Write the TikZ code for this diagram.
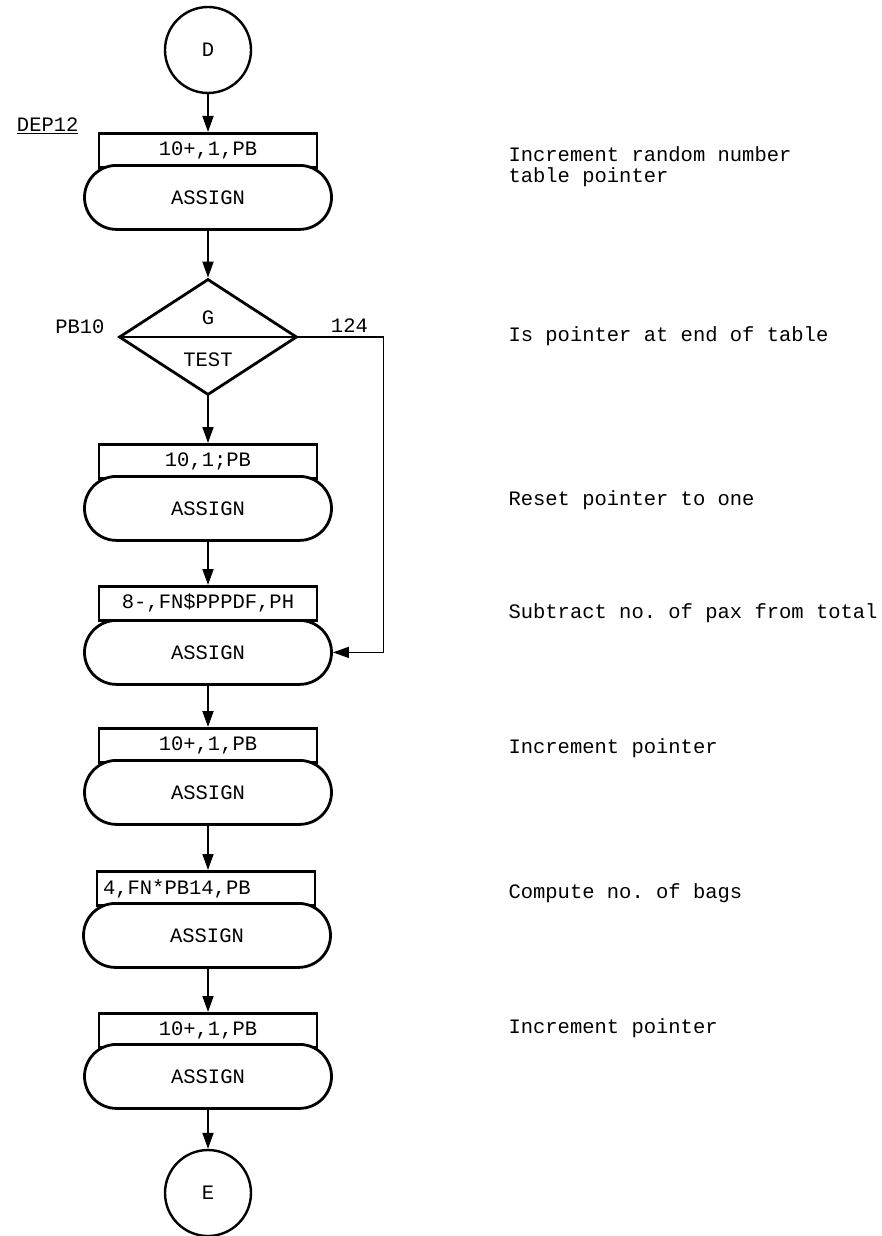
\documentclass[tikz,border=0pt]{standalone}
\usepackage{fontspec}
\setmonofont{Liberation Mono}
\usepackage{tikz}
\usetikzlibrary{positioning,arrows.meta,shapes.geometric,shapes.misc}
\tikzset{
  opbox/.style={draw, line width=2.8pt, minimum width=218pt, minimum height=34pt,
    inner sep=0pt, anchor=north, fill=white},
  assignbody/.style={draw, rounded rectangle, line width=2.8pt, minimum width=247pt,
    minimum height=64pt, inner sep=0pt, anchor=north, fill=white},
  connector/.style={circle, draw, line width=2.4pt, minimum size=86pt, inner sep=0pt},
  testbox/.style={diamond, draw, line width=2.8pt, minimum width=178pt,
    minimum height=116pt, inner sep=0pt},
  flowarrow/.style={-{Triangle[length=16pt,width=11pt]}, line width=1.8pt},
  sidenote/.style={anchor=west, align=left},
}
\newcommand{\gpssfont}{\ttfamily\fontsize{20.5}{21}\selectfont}

\begin{document}
\begin{tikzpicture}[x=1pt, y=-1pt, font=\gpssfont]
  \fill[white] (0,0) rectangle (881,1236);
  \useasboundingbox (0,0) rectangle (881,1236);
  % start connector
  \node[connector] (d) at (208,50) {D};
  \node[anchor=east] (dep12) at (82,126) {\underline{DEP12}};
  % first ASSIGN block
  \node[opbox] (op1) at (208,132) {10+,1,PB};
  \node[assignbody] (as1) at (208,164) {ASSIGN};
  % TEST block
  \node[testbox] (test) at (208,337) {};
  \draw[line width=2.8pt] (test.west) -- (test.east);
  \node (testg) at (208,318) {G};
  \node (testop) at (208,360) {TEST};
  \node[anchor=east] (pb10) at (108,327) {PB10};
  % reset block
  \node[opbox] (op2) at (208,443) {10,1;PB};
  \node[assignbody] (as2) at (208,475) {ASSIGN};
  % subtract block
  \node[opbox] (op3) at (208,585) {8-,FN\$PPPDF,PH};
  \node[assignbody] (as3) at (208,619) {ASSIGN};
  % increment block
  \node[opbox] (op4) at (208,727) {10+,1,PB};
  \node[assignbody] (as4) at (208,759) {ASSIGN};
  % bags block
  \node[opbox, text width=206pt, align=left] (op5) at (206,870) {4,FN*PB14,PB};
  \node[assignbody] (as5) at (207,902) {ASSIGN};
  % last increment block
  \node[opbox] (op6) at (208,1012) {10+,1,PB};
  \node[assignbody] (as6) at (208,1043) {ASSIGN};
  % end connector
  \node[connector] (e) at (208,1193) {E};
  % flow
  \draw[flowarrow] (d.south) -- (op1.north);
  \draw[flowarrow] (as1.south) -- (test.north);
  \draw[flowarrow] (test.south) -- (op2.north);
  \draw[flowarrow] (as2.south) -- (op3.north);
  \draw[flowarrow] (as3.south) -- (op4.north);
  \draw[flowarrow] (as4.south) -- (op5.north -| d.south);
  \draw[flowarrow] (as5.south -| d.south) -- (op6.north);
  \draw[flowarrow] (as6.south) -- (e.north);
  \draw[flowarrow, line width=1.5pt] (test.east) -- node[above, pos=0.6] (n124) {124} ++(85,0) |- (as3.east);
  % comments on the right
  \node[sidenote] (c1) at (505,167) {Increment random number\\table pointer};
  \node[sidenote] (c2) at (505,336) {Is pointer at end of table};
  \node[sidenote] (c3) at (505,500) {Reset pointer to one};
  \node[sidenote] (c4) at (505,613) {Subtract no. of pax from total};
  \node[sidenote] (c5) at (505,748) {Increment pointer};
  \node[sidenote] (c6) at (505,893) {Compute no. of bags};
  \node[sidenote] (c7) at (505,1028) {Increment pointer};
\end{tikzpicture}
\end{document}
